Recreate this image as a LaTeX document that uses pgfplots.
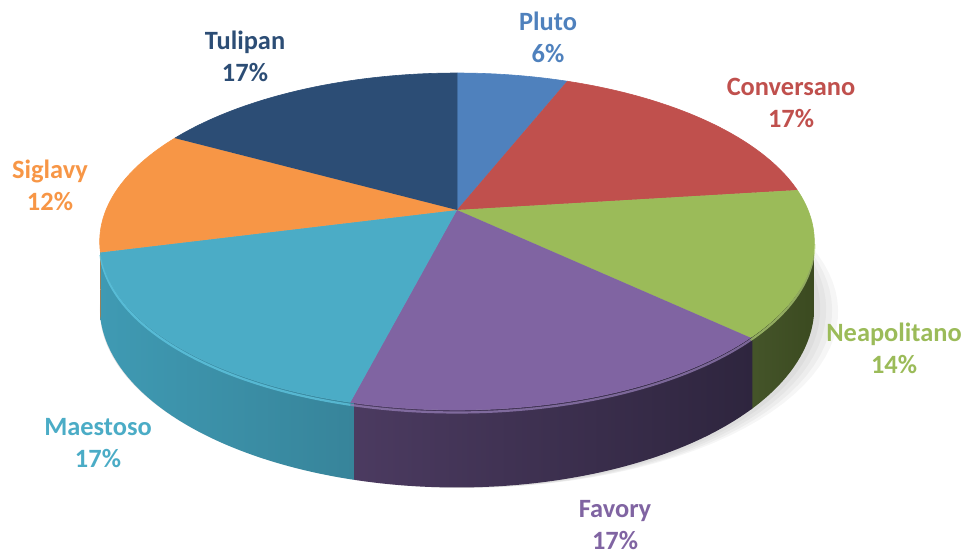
\documentclass[border=0pt]{standalone}
\usepackage{pgfplots}
\pgfplotsset{compat=1.18}
\usepackage{pgfplotstable}
\usepackage{fontspec}
\setmainfont{Carlito}

\definecolor{cPluto}{HTML}{4F81BD}
\definecolor{cConv}{HTML}{C0504D}
\definecolor{cNeap}{HTML}{9BBB59}
\definecolor{cFav}{HTML}{8064A2}
\definecolor{cMae}{HTML}{4BACC6}
\definecolor{cSig}{HTML}{F79646}
\definecolor{cTul}{HTML}{2C4D75}
% wall colours
\definecolor{wNeapL}{HTML}{45552A}
\definecolor{wNeapR}{HTML}{3B4A20}
\definecolor{wFavL}{HTML}{4C3B61}
\definecolor{wFavR}{HTML}{2E253E}
\definecolor{wMaeL}{HTML}{3F9AB3}
\definecolor{wMaeR}{HTML}{37849A}
\definecolor{wSig}{HTML}{C8742E}
% rim colours
\definecolor{rNeap}{HTML}{B5D27A}
\definecolor{rFav}{HTML}{9A82BC}
\definecolor{rMae}{HTML}{63CBE6}

\pgfplotstableread{
name value
Pluto 6
Conversano 17
Neapolitano 14
Favory 17
Maestoso 17
Siglavy 12
Tulipan 17
}\piedata

\newcommand\ang[2]{\csname pie#1\romannumeral#2\endcsname}

\newcommand\topslice[3]{%
  \addplot[fill=#3, draw=#3, line width=0.6pt, domain=0:1.0125, samples=82, variable=\x]
    ({ifthenelse(\x>1.005, 457, px(#1+(#2-#1)*\x))},
     {ifthenelse(\x>1.005, 347, py(#1+(#2-#1)*\x))});
}
% wall: extended by 0.5 deg on each side so neighbouring walls overlap
\newcommand\wall[4]{%
  \pgfmathsetmacro\wa{max(#1-0.5,100.78)}%
  \pgfmathsetmacro\wb{min(#2+0.5,259.22)}%
  \addplot[draw=none, left color=#3, right color=#4, domain=0:2, samples=121, variable=\x]
    ({px(ifthenelse(\x<1.0001, \wa+(\wb-\wa)*\x, \wb-(\wb-\wa)*(\x-1)))},
     {ifthenelse(\x<1.0001, py(\wa+(\wb-\wa)*\x), pb(\wb-(\wb-\wa)*(\x-1)))});
}
\newcommand\rim[3]{%
  \addplot[draw=#3, line width=2.2pt, opacity=0.7, domain=#1:#2, samples=60, variable=\x]
    ({px(\x)},{py(\x)-2.5});
}

\begin{document}
\def\cum{0}%
\pgfplotsforeachungrouped \i in {1,...,7}{%
  \pgfmathtruncatemacro\row{\i-1}%
  \pgfplotstablegetelem{\row}{value}\of\piedata
  \pgfmathsetmacro\st{\cum*3.6}%
  \pgfmathsetmacro\cumnew{\cum+\pgfplotsretval}%
  \pgfmathsetmacro\en{\cumnew*3.6}%
  \expandafter\xdef\csname pieS\romannumeral\i\endcsname{\st}%
  \expandafter\xdef\csname pieE\romannumeral\i\endcsname{\en}%
  \xdef\cum{\cumnew}%
}%
\begin{tikzpicture}[declare function={
    pw(\t)=1+0.187*cos(\t);
    px(\t)=457+351*sin(\t)/pw(\t);
    py(\t)=347+162.6*cos(\t)/pw(\t);
    pb(\t)=py(\t)-63/pw(\t);
  }]
\useasboundingbox (0,0) rectangle (968bp,557bp);
\begin{axis}[at={(0,0)}, anchor=south west, scale only axis,
  width=968bp, height=557bp, xmin=0, xmax=968, ymin=0, ymax=557,
  hide axis, clip=false]
% soft shadow
\addplot[fill=black, draw=none, opacity=0.035, domain=0:360, samples=120] ({px(\x)+12+12*sin(\x)},{pb(\x)-7-7*cos(\x)});
\addplot[fill=black, draw=none, opacity=0.035, domain=0:360, samples=120] ({px(\x)+9+9*sin(\x)},{pb(\x)-5.5-5*cos(\x)});
\addplot[fill=black, draw=none, opacity=0.035, domain=0:360, samples=120] ({px(\x)+6+6*sin(\x)},{pb(\x)-4-3.5*cos(\x)});
\addplot[fill=black, draw=none, opacity=0.035, domain=0:360, samples=120] ({px(\x)+3+3*sin(\x)},{pb(\x)-2.5-2*cos(\x)});
% visible walls (front half, silhouette at 100.78 and 259.22 deg)
\wall{100.78}{\ang{E}{3}}{wNeapL}{wNeapR}
\wall{\ang{S}{4}}{\ang{E}{4}}{wFavL}{wFavR}
\wall{\ang{S}{5}}{\ang{E}{5}}{wMaeL}{wMaeR}
\wall{\ang{S}{6}}{259.22}{wSig}{wSig}
% rims
\rim{100.78}{\ang{E}{3}}{rNeap}
\rim{\ang{S}{4}}{\ang{E}{4}}{rFav}
\rim{\ang{S}{5}}{\ang{E}{5}}{rMae}
% top surfaces
\topslice{\ang{S}{1}}{\ang{E}{1}}{cPluto}
\topslice{\ang{S}{2}}{\ang{E}{2}}{cConv}
\topslice{\ang{S}{3}}{\ang{E}{3}}{cNeap}
\topslice{\ang{S}{4}}{\ang{E}{4}}{cFav}
\topslice{\ang{S}{5}}{\ang{E}{5}}{cMae}
\topslice{\ang{S}{6}}{\ang{E}{6}}{cSig}
\topslice{\ang{S}{7}}{\ang{E}{7}}{cTul}
% labels
\tikzset{lab/.style={font=\bfseries\fontsize{26.5}{32}\selectfont, align=center, inner sep=0pt}}
\node[lab, text=cPluto] at (axis cs:548,520) {Pluto\\6\%};
\node[lab, text=cConv]  at (axis cs:791,454) {Conversano\\17\%};
\node[lab, text=cNeap]  at (axis cs:894,209) {Neapolitano\\14\%};
\node[lab, text=cFav]   at (axis cs:615,32)  {Favory\\17\%};
\node[lab, text=cMae]   at (axis cs:98,114)  {Maestoso\\17\%};
\node[lab, text=cSig]   at (axis cs:50,372)  {Siglavy\\12\%};
\node[lab, text=cTul]   at (axis cs:245,501) {Tulipan\\17\%};
\end{axis}
\end{tikzpicture}
\end{document}
